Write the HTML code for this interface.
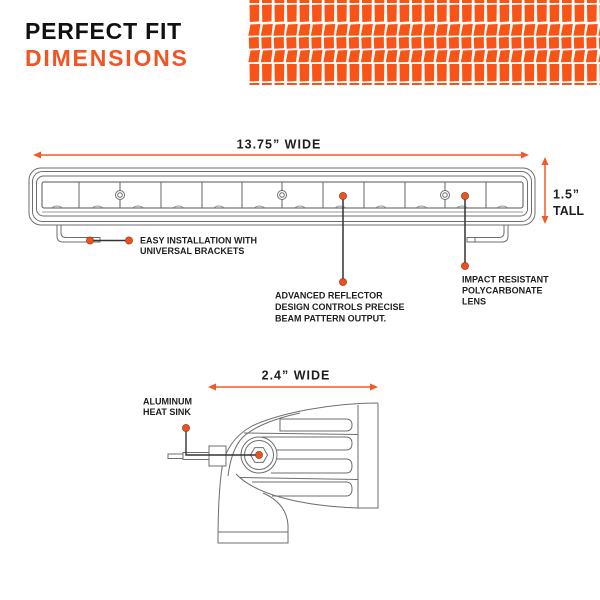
<!DOCTYPE html>
<html><head><meta charset="utf-8"><style>
html,body{margin:0;padding:0;background:#fff;}
svg{display:block;}
text{font-family:"Liberation Sans",Arial,sans-serif;font-weight:bold;}
</style></head><body>
<svg width="600" height="600" viewBox="0 0 600 600" xmlns="http://www.w3.org/2000/svg">
<defs>
<pattern id="tire" x="248" y="0" width="12.5" height="85" patternUnits="userSpaceOnUse">
<rect x="1.5" y="0" width="9.8" height="3" fill="#f85417"/>
<polygon points="1.5,5 11.3,4.5 11,21.5 1.8,22" fill="#f85417"/>
<polygon points="2.5,24.5 12.3,24 11,35.5 0.3,35.8" fill="#f85417"/>
<polygon points="0.8,37.5 10.8,37 11,48.3 1.2,48.7" fill="#f85417"/>
<polygon points="2.5,50.5 12,50 10.5,62 0.3,62.2" fill="#f85417"/>
<polygon points="1.5,64 11.3,64 11,81 1.8,81.5" fill="#f85417"/>
<rect x="1.5" y="83" width="9.8" height="2" fill="#f85417"/>
</pattern>
</defs>
<rect width="600" height="600" fill="#fff"/>
<rect x="248" y="0" width="352" height="85" fill="url(#tire)"/>

<text x="25" y="39" font-size="23" fill="#111" letter-spacing="0.8">PERFECT FIT</text>
<text x="25" y="66" font-size="23" fill="#f05523" letter-spacing="1.8">DIMENSIONS</text>

<!-- width dimension -->
<text x="279" y="148.5" font-size="12.5" fill="#1e1e1e" text-anchor="middle" letter-spacing="1">13.75” WIDE</text>
<line x1="38" y1="155" x2="524" y2="155" stroke="#f05a28" stroke-width="1.5"/>
<polygon points="33,155 41,151.5 41,158.5" fill="#f05a28"/>
<polygon points="529,155 521,151.5 521,158.5" fill="#f05a28"/>

<!-- tall dimension -->
<line x1="545" y1="163" x2="545" y2="218" stroke="#f05a28" stroke-width="1.5"/>
<polygon points="545,157 541.5,165 548.5,165" fill="#f05a28"/>
<polygon points="545,224 541.5,216 548.5,216" fill="#f05a28"/>
<text x="553" y="198.5" font-size="12.5" fill="#1e1e1e" letter-spacing="0.8">1.5”</text>
<text x="553" y="215" font-size="12.5" fill="#1e1e1e">TALL</text>

<!-- light bar -->
<g fill="none" stroke="#6e6e6e" stroke-width="1">
<rect x="29" y="168" width="506" height="57" rx="12"/>
<rect x="32.5" y="171.5" width="499" height="50" rx="10"/>
<rect x="36.5" y="176" width="491" height="40" rx="7"/>
<rect x="42" y="182" width="481" height="26" rx="2" stroke="#555"/>
<line x1="42" y1="212" x2="523" y2="212" stroke="#999"/>
<g stroke="#666">
<line x1="79" y1="182" x2="79" y2="208"/>
<line x1="120" y1="182" x2="120" y2="208"/>
<line x1="161" y1="182" x2="161" y2="208"/>
<line x1="202" y1="182" x2="202" y2="208"/>
<line x1="242" y1="182" x2="242" y2="208"/>
<line x1="282" y1="182" x2="282" y2="208"/>
<line x1="323" y1="182" x2="323" y2="208"/>
<line x1="364" y1="182" x2="364" y2="208"/>
<line x1="405" y1="182" x2="405" y2="208"/>
<line x1="445" y1="182" x2="445" y2="208"/>
<line x1="486" y1="182" x2="486" y2="208"/>
</g>
<g stroke="#999">
<path d="M52,207.5 Q57,204.5 62,207.5"/><path d="M92.5,207.5 Q97.5,204.5 102.5,207.5"/>
<path d="M133,207.5 Q138,204.5 143,207.5"/><path d="M173.5,207.5 Q178.5,204.5 183.5,207.5"/>
<path d="M214,207.5 Q219,204.5 224,207.5"/><path d="M254.5,207.5 Q259.5,204.5 264.5,207.5"/>
<path d="M295,207.5 Q300,204.5 305,207.5"/><path d="M335.5,207.5 Q340.5,204.5 345.5,207.5"/>
<path d="M376,207.5 Q381,204.5 386,207.5"/><path d="M416.5,207.5 Q421.5,204.5 426.5,207.5"/>
<path d="M457,207.5 Q462,204.5 467,207.5"/><path d="M497.5,207.5 Q502.5,204.5 507.5,207.5"/>
</g>
<circle cx="120" cy="195" r="4.5" fill="#fff"/><circle cx="120" cy="195" r="2.3"/>
<circle cx="282" cy="195" r="4.5" fill="#fff"/><circle cx="282" cy="195" r="2.3"/>
<circle cx="445" cy="195" r="4.5" fill="#fff"/><circle cx="445" cy="195" r="2.3"/>
<!-- brackets -->
<path d="M57,225 L57,236 Q57,242 63,242 L100,242 L100,237.5 L66,237.5 Q61,237.5 61,232.5 L61,225"/>
<path d="M508,225 L508,236 Q508,242 502,242 L467,242 L467,237.5 L499,237.5 Q504,237.5 504,232.5 L504,225"/>
<line x1="475" y1="237.5" x2="475" y2="242"/>
</g>

<!-- leaders on bar -->
<g stroke="#333" stroke-width="1.5">
<line x1="90" y1="240.5" x2="129" y2="240.5"/>
<line x1="343" y1="196" x2="343" y2="282"/>
<line x1="465" y1="196" x2="465" y2="266"/>
</g>
<g fill="#e8531f" stroke="#8a2d0f" stroke-width="0.6">
<circle cx="90" cy="240.5" r="3.6"/>
<circle cx="129" cy="240.5" r="3.6"/>
<circle cx="343" cy="196" r="3.6"/>
<circle cx="343" cy="282" r="3.6"/>
<circle cx="465" cy="196" r="3.6"/>
<circle cx="465" cy="266" r="3.6"/>
</g>

<g font-size="9" fill="#1e1e1e">
<text x="140" y="243.5">EASY INSTALLATION WITH</text>
<text x="140" y="254">UNIVERSAL BRACKETS</text>
<text x="275" y="298.5">ADVANCED REFLECTOR</text>
<text x="275" y="310">DESIGN CONTROLS PRECISE</text>
<text x="275" y="321.5">BEAM PATTERN OUTPUT.</text>
<text x="462" y="282.5">IMPACT RESISTANT</text>
<text x="462" y="293.5">POLYCARBONATE</text>
<text x="462" y="304.5">LENS</text>
<text x="143" y="404.5">ALUMINUM</text>
<text x="143" y="415">HEAT SINK</text>
</g>

<!-- 2.4 wide -->
<text x="296" y="379.5" font-size="12.5" fill="#1e1e1e" text-anchor="middle" letter-spacing="1">2.4” WIDE</text>
<line x1="213" y1="387" x2="373" y2="387" stroke="#f05a28" stroke-width="1.5"/>
<polygon points="208,387 216,383.5 216,390.5" fill="#f05a28"/>
<polygon points="378,387 370,383.5 370,390.5" fill="#f05a28"/>

<!-- side view -->
<g fill="none" stroke="#6e6e6e" stroke-width="1">
<path d="M378,403 L378,508 L358,508 C300,506 255,494 236,474"/>
<path d="M378,403 C335,403 282,412 252,426 C234,436 225,450 222,468 C219,488 218,515 218,543 L288,543 L288,525 C287,511 279,500 263,493"/>
<line x1="218" y1="532" x2="288" y2="532"/>
<line x1="358" y1="405" x2="358" y2="508"/>
<path d="M300,413 C272,419 252,428 242,438 C234,447 230,460 228,476"/>
<path d="M280,419 L346,419 Q352,419 352,425 Q352,431 346,431 L280,431 Z"/>
<line x1="244" y1="433" x2="358" y2="434.5"/>
<path d="M262,437 L346,437 Q352,437 352,443.5 Q352,450 346,450 L276,450"/>
<path d="M277,459 L346,459 Q352,459 352,466 Q352,473 346,473 L271,473"/>
<line x1="240" y1="477.5" x2="358" y2="479.5"/>
<path d="M252,482 L346,482 Q352,482 352,489 Q352,496 346,496 L272,496"/>
<circle cx="259" cy="455" r="18" fill="#fff"/>
<circle cx="259" cy="455" r="14.5"/>
<polygon points="267.5,455 263.25,462.4 254.75,462.4 250.5,455 254.75,447.6 263.25,447.6"/>
<rect x="209" y="446" width="17" height="20" fill="#fff"/>
<rect x="183" y="452.5" width="26" height="7" fill="#fff"/>
<rect x="168" y="454" width="15" height="4.5" fill="#fff"/>
</g>
<path d="M259,455 L186,455 L186,428" fill="none" stroke="#333" stroke-width="1.4"/>
<g fill="#e8531f" stroke="#8a2d0f" stroke-width="0.6">
<circle cx="259" cy="455" r="3.6"/>
<circle cx="186" cy="428" r="3.6"/>
</g>
</svg>
</body></html>
